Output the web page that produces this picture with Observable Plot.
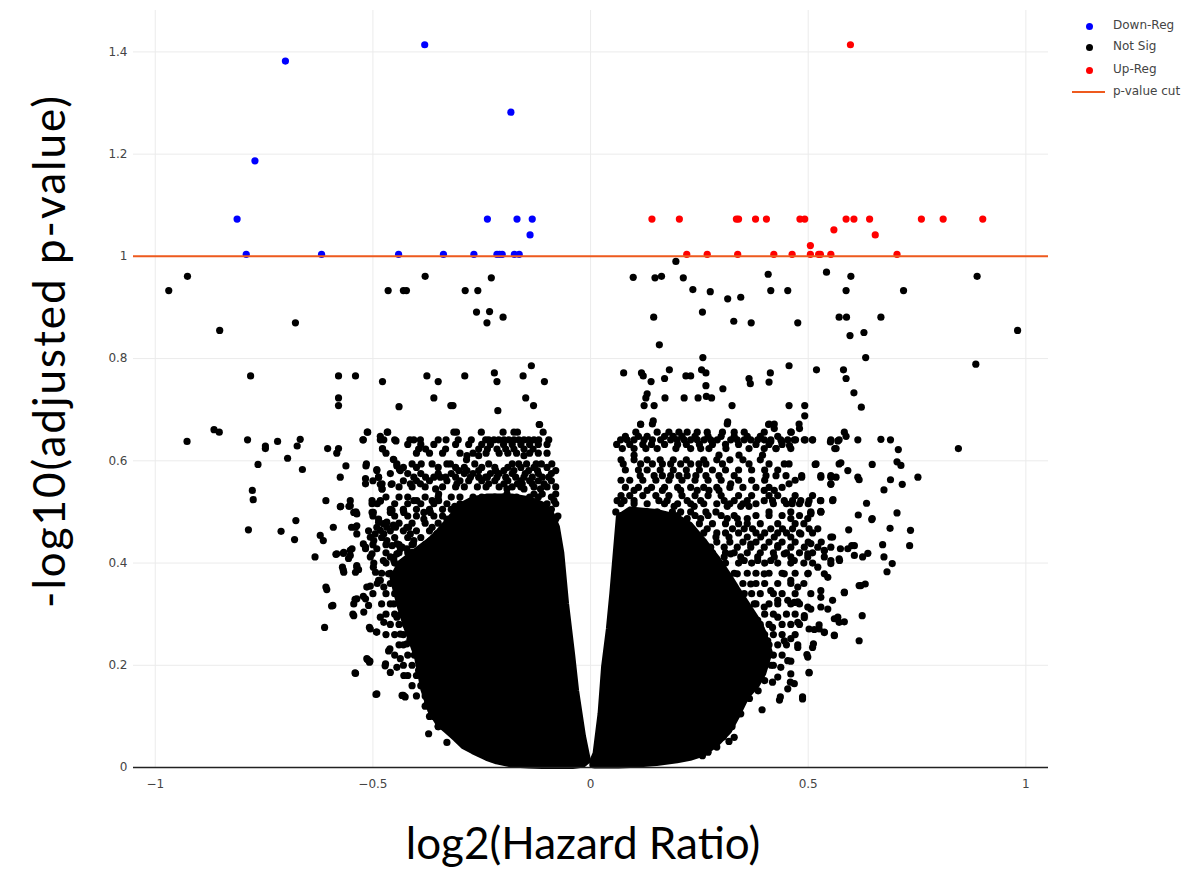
<!DOCTYPE html>
<html>
<head>
<meta charset="utf-8">
<script src="https://cdn.jsdelivr.net/npm/d3@7"></script>
<script src="https://cdn.jsdelivr.net/npm/@observablehq/plot@0.6"></script>
<style>
  body { margin: 0; background: #fff; }
  #wrap { position: relative; width: 1196px; height: 869px; background: #fff; overflow: hidden; }
  #chart { position: absolute; left: 0; top: 0; }
  .ytitle { position: absolute; left: 48px; top: 351px; transform: translate(-50%, -50%) rotate(-90deg);
            white-space: nowrap; font: 44px/1 Lato, "Open Sans", sans-serif; letter-spacing: 2px; color: #000; }
  .xtitle { position: absolute; left: 583px; top: 842px; transform: translate(-50%, -50%);
            white-space: nowrap; font: 44px/1 Lato, "Open Sans", sans-serif; color: #000; }
  .leg { position: absolute; font: 12px "DejaVu Sans", Verdana, sans-serif; color: #444; white-space: nowrap; }
  .legdot { position: absolute; width: 7px; height: 7px; border-radius: 50%; }
  .legline { position: absolute; height: 2px; width: 33px; }
</style>
</head>
<body>
<div id="wrap">
  <div id="chart"></div>
  <div class="ytitle">-log10(adjusted p-value)</div>
  <div class="xtitle">log2(Hazard Ratio)</div>
  <div id="legend"></div>
</div>
<script>
// ---------- data ----------
const xTicks = [-1, -0.5, 0, 0.5, 1];
const yTicks = [0, 0.2, 0.4, 0.6, 0.8, 1, 1.2, 1.4];
const pCut = 1;

const legendNames = ["Down-Reg", "Not Sig", "Up-Reg", "p-value cut"];
const legendColors = ["#0000ff", "#000000", "#ff0000", "#ee5a1e"];

// Down-regulated (blue)
const downX = [-0.701, -0.381, -0.183, -0.771, -0.812, -0.791, -0.618, -0.441, -0.338, -0.268, -0.215, -0.209, -0.203, -0.175, -0.164, -0.237, -0.169, -0.134, -0.139];
const downY = [1.382, 1.414, 1.282, 1.187, 1.073, 1.004, 1.004, 1.004, 1.004, 1.004, 1.004, 1.004, 1.004, 1.004, 1.004, 1.073, 1.073, 1.073, 1.042];

// Up-regulated (red)
const upX = [0.597, 0.141, 0.204, 0.335, 0.340, 0.379, 0.404, 0.481, 0.492, 0.587, 0.605, 0.641, 0.760, 0.810, 0.901,
             0.221, 0.268, 0.338, 0.421, 0.463, 0.505, 0.524, 0.528, 0.552, 0.704, 0.559, 0.654, 0.505];
const upY = [1.414, 1.073, 1.073, 1.073, 1.073, 1.073, 1.073, 1.073, 1.073, 1.073, 1.073, 1.073, 1.073, 1.073, 1.073,
             1.004, 1.004, 1.004, 1.004, 1.004, 1.004, 1.004, 1.004, 1.004, 1.004, 1.052, 1.042, 1.021];

// Dense (solid-looking) cores of the not-significant cloud: x, lower and upper edge
const leftCoreX  = [-0.455, -0.437, -0.422, -0.407, -0.399, -0.384, -0.368, -0.350, -0.330, -0.310, -0.292, -0.270, -0.238, -0.215, -0.180, -0.140, -0.110, -0.090, -0.075, -0.065, -0.054, -0.040, -0.031, -0.015, -0.004];
const leftCoreLo = [0.370, 0.310, 0.270, 0.235, 0.216, 0.151, 0.110, 0.085, 0.070, 0.055, 0.040, 0.030, 0.017, 0.010, 0.004, 0.002, 0.001, 0.001, 0.001, 0.001, 0.001, 0.001, 0.002, 0.004, 0.012];
const leftCoreHi = [0.370, 0.400, 0.410, 0.420, 0.425, 0.435, 0.445, 0.460, 0.480, 0.500, 0.515, 0.525, 0.530, 0.530, 0.530, 0.525, 0.515, 0.500, 0.470, 0.420, 0.320, 0.220, 0.150, 0.060, 0.014];

const rightCoreX  = [0.004, 0.0115, 0.023, 0.031, 0.042, 0.050, 0.058, 0.065, 0.092, 0.153, 0.200, 0.230, 0.260, 0.292, 0.320, 0.338, 0.361, 0.384, 0.399, 0.414];
const rightCoreLo = [0.003, 0.002, 0.002, 0.002, 0.002, 0.002, 0.002, 0.002, 0.003, 0.007, 0.012, 0.017, 0.025, 0.045, 0.070, 0.098, 0.138, 0.160, 0.183, 0.225];
const rightCoreHi = [0.012, 0.027, 0.105, 0.196, 0.270, 0.340, 0.420, 0.490, 0.505, 0.500, 0.490, 0.475, 0.445, 0.410, 0.375, 0.350, 0.320, 0.290, 0.265, 0.225];

// Scattered not-significant points [x, y]
const notSigScatter = [
  [-0.969,0.933],[-0.926,0.961],[-0.852,0.855],[-0.678,0.870],[-0.465,0.933],[-0.430,0.933],[-0.423,0.933],[-0.380,0.961],[-0.288,0.933],[-0.259,0.933],[-0.228,0.958],[-0.262,0.891],[-0.232,0.892],[-0.238,0.870],[-0.201,0.881],
  [-0.781,0.766],[-0.579,0.766],[-0.540,0.766],[-0.478,0.755],[-0.376,0.766],[-0.350,0.755],[-0.289,0.766],[-0.221,0.772],[-0.215,0.755],[-0.155,0.766],[-0.136,0.786],[-0.106,0.755],
  [-0.579,0.723],[-0.579,0.708],[-0.440,0.706],[-0.360,0.723],[-0.321,0.708],[-0.316,0.708],[-0.213,0.698],[-0.149,0.723],[-0.131,0.708],[-0.117,0.671],
  [-0.927,0.638],[-0.865,0.661],[-0.853,0.656],[-0.788,0.641],[-0.747,0.629],[-0.747,0.624],[-0.719,0.638],[-0.667,0.642],[-0.674,0.629],[-0.696,0.605],[-0.764,0.593],[-0.662,0.583],[-0.777,0.542],[-0.775,0.524],
  [-0.604,0.624],[-0.579,0.624],[-0.583,0.615],[-0.562,0.590],[-0.575,0.568],[-0.608,0.522],[-0.574,0.511],[-0.552,0.522],[-0.555,0.511],[-0.539,0.500],
  [-0.513,0.656],[-0.522,0.641],[-0.516,0.590],[-0.517,0.565],[-0.491,0.583],[-0.487,0.568],[-0.483,0.554],[-0.479,0.545],[-0.502,0.516],[-0.483,0.521],[-0.483,0.648],[-0.467,0.656],[-0.478,0.624],[-0.447,0.639],[-0.453,0.603],[-0.445,0.590],[-0.439,0.583],[-0.458,0.554],
  [-0.786,0.465],[-0.711,0.462],[-0.677,0.483],[-0.680,0.446],[-0.633,0.412],[-0.621,0.454],[-0.614,0.444],[-0.608,0.353],[-0.606,0.348],[-0.595,0.316],[-0.611,0.274],[-0.541,0.185],[-0.493,0.143],[-0.508,0.274],[-0.492,0.265],[-0.546,0.300],[-0.541,0.329],[-0.522,0.335],[-0.512,0.211],[-0.508,0.206],[-0.472,0.199],[-0.464,0.228],[-0.445,0.196],[-0.430,0.141],[-0.426,0.138],[-0.372,0.066],[-0.330,0.049],
  [-0.585,0.417],[-0.568,0.419],[-0.552,0.425],[-0.556,0.409],[-0.570,0.392],[-0.568,0.386],[-0.537,0.392],[-0.533,0.387],[-0.514,0.353],[-0.506,0.355],[-0.487,0.366],
  [-0.549,0.470],[-0.537,0.473],[-0.537,0.496],[-0.552,0.512],[-0.575,0.510],[-0.591,0.470],
  [-0.522,0.4375],[-0.506,0.4505],[-0.495,0.457],[-0.483,0.464],[-0.476,0.477],[-0.487,0.480],[-0.499,0.499],[-0.456,0.503],[-0.468,0.480],[-0.453,0.474],[-0.430,0.503],[-0.422,0.470],[-0.407,0.4375],[-0.445,0.4375],[-0.460,0.412],[-0.476,0.405],[-0.499,0.392],[-0.506,0.412],
  [-0.583,0.418],[-0.567,0.421],[-0.552,0.415],[-0.567,0.382],[-0.540,0.382],[-0.537,0.395],[-0.517,0.431],[-0.502,0.418],[-0.498,0.400],[-0.494,0.382],[-0.592,0.317],[-0.544,0.320],[-0.537,0.330],[-0.517,0.330],[-0.521,0.304],[-0.544,0.297],[-0.510,0.317],[-0.483,0.294],[-0.475,0.284],[-0.506,0.271],[-0.491,0.265],[-0.461,0.232],[-0.514,0.213],[-0.507,0.208],[-0.471,0.203],[-0.540,0.184],[-0.460,0.186],[-0.437,0.213],[-0.429,0.180],[-0.491,0.144],[-0.433,0.141],[-0.452,0.320],[-0.445,0.294],[-0.422,0.242],[-0.437,0.261],
  [-0.483,0.366],[-0.475,0.353],[-0.464,0.379],[-0.452,0.405],[-0.445,0.418],[-0.437,0.385],[-0.429,0.359],[-0.414,0.340],[-0.402,0.372],[-0.399,0.405],[-0.383,0.424],[-0.368,0.398],[-0.422,0.398],[-0.456,0.434],[-0.433,0.431],[-0.410,0.421],[-0.391,0.382],[-0.376,0.359],[-0.368,0.333],
  [0.196,0.990],[0.098,0.959],[0.148,0.958],[0.163,0.961],[0.213,0.958],[0.235,0.935],[0.275,0.931],[0.315,0.917],[0.345,0.920],[0.408,0.965],[0.414,0.933],[0.453,0.933],[0.542,0.969],[0.598,0.961],[0.587,0.933],[0.719,0.933],[0.888,0.961],[0.145,0.881],[0.257,0.891],[0.329,0.873],[0.369,0.870],[0.476,0.870],[0.571,0.881],[0.588,0.881],[0.667,0.881],[0.596,0.845],[0.628,0.851],[0.158,0.827],[0.981,0.855],[0.258,0.802],[0.632,0.802],[0.885,0.789],
  [0.076,0.772],[0.117,0.772],[0.121,0.766],[0.181,0.778],[0.170,0.761],[0.139,0.755],[0.219,0.766],[0.230,0.766],[0.255,0.778],[0.265,0.772],[0.265,0.747],[0.304,0.741],[0.364,0.761],[0.367,0.751],[0.413,0.772],[0.410,0.754],[0.456,0.786],[0.519,0.778],[0.581,0.778],[0.587,0.761],[0.605,0.733],[0.622,0.705],
  [0.130,0.731],[0.127,0.723],[0.123,0.708],[0.146,0.708],[0.171,0.723],[0.215,0.723],[0.247,0.723],[0.266,0.726],[0.278,0.723],[0.325,0.708],[0.456,0.708],[0.492,0.708],[0.492,0.688],[0.144,0.678],[0.115,0.671],[0.315,0.676],[0.409,0.671],[0.422,0.663],[0.480,0.663],[0.461,0.656],[0.583,0.656],[0.587,0.648],[0.614,0.641],[0.667,0.642],[0.689,0.641],[0.551,0.637],[0.568,0.639],[0.561,0.624],[0.707,0.622],[0.845,0.624],[0.493,0.641],[0.510,0.641],[0.457,0.630],[0.426,0.624],[0.471,0.641],[0.439,0.638],[0.414,0.638],
  [0.704,0.598],[0.713,0.591],[0.647,0.593],[0.575,0.596],[0.591,0.581],[0.516,0.593],[0.752,0.568],[0.689,0.563],[0.716,0.554],[0.674,0.543],[0.614,0.568],[0.617,0.563],[0.529,0.568],[0.552,0.568],[0.564,0.568],[0.552,0.554],[0.485,0.568],[0.634,0.517],[0.704,0.498],[0.557,0.524],[0.528,0.522],[0.529,0.501],[0.615,0.494],[0.647,0.487],[0.500,0.516],[0.480,0.516],[0.463,0.516],[0.506,0.498],
  [0.646,0.485],[0.593,0.465],[0.688,0.468],[0.735,0.464],[0.671,0.436],[0.733,0.434],[0.674,0.412],[0.693,0.399],[0.681,0.383],[0.637,0.419],[0.625,0.412],[0.600,0.434],[0.606,0.415],[0.574,0.428],[0.572,0.405],[0.631,0.359],[0.621,0.356],[0.583,0.342],[0.624,0.297],[0.617,0.248],[0.583,0.285],[0.568,0.294],[0.556,0.327],[0.560,0.259],[0.537,0.264],[0.502,0.185],[0.487,0.134],[0.434,0.132],[0.394,0.113],[0.330,0.059],[0.318,0.051],[0.257,0.023],[0.512,0.242],[0.497,0.221],[0.476,0.240],[0.460,0.208],[0.514,0.270],[0.525,0.279],[0.491,0.293],[0.506,0.310],[0.459,0.167],[0.453,0.154],[0.418,0.167],[0.430,0.177],[0.476,0.324],[0.506,0.340],[0.529,0.346],[0.545,0.372],[0.552,0.399],[0.537,0.425],[0.506,0.438],[0.483,0.457],[0.529,0.500],[0.506,0.496],[0.552,0.451],
  [0.617,0.356],[0.583,0.343],[0.560,0.258],[0.537,0.265],[0.510,0.235],[0.502,0.186],[0.487,0.138],[0.436,0.138],[0.468,0.164],[0.476,0.235],[0.499,0.216],[0.560,0.291],[0.571,0.284],[0.545,0.310],[0.529,0.333],[0.491,0.297],[0.476,0.284],[0.460,0.252],[0.445,0.248],[0.453,0.209],[0.437,0.196],[0.460,0.183],[0.502,0.271],[0.525,0.271],[0.529,0.314],[0.499,0.314],[0.468,0.323],[0.453,0.327],[0.430,0.294],[0.418,0.274],[0.537,0.379],[0.522,0.392],[0.499,0.379],[0.476,0.353],[0.460,0.366],[0.445,0.379],[0.552,0.405],[0.571,0.408],[0.591,0.428],[0.606,0.434],[0.537,0.424],[0.499,0.418],[0.468,0.405],[0.445,0.418],[0.430,0.434],[0.414,0.405],[0.399,0.379],[0.414,0.346],[0.430,0.327],[0.399,0.314],[0.391,0.274],[0.407,0.248],
  [0.368,0.437],[0.353,0.405],[0.337,0.379],[0.368,0.359],[0.384,0.405],[0.322,0.418],[0.299,0.398],[0.307,0.366],[0.353,0.340],[0.376,0.320],[0.360,0.294],[0.384,0.288],[0.268,0.424],[0.253,0.392],
  [-0.350,0.080],[-0.345,0.095],[-0.365,0.105],[-0.375,0.125],[-0.385,0.160],[-0.395,0.190],[-0.405,0.220],[-0.415,0.250],[-0.425,0.280],[-0.435,0.300],
  [0.270,0.030],[0.290,0.040],[0.305,0.060],[0.325,0.080],[0.345,0.105],[0.365,0.135],[0.385,0.150],[0.400,0.170],[0.415,0.200]
];

// Rows of not-significant points in the crowded band (one y level, several x values)
const leftBandY = [0.671, 0.656, 0.641, 0.632, 0.623, 0.615, 0.610, 0.602, 0.594, 0.587, 0.581, 0.575, 0.568, 0.561, 0.555, 0.549, 0.545, 0.535, 0.529, 0.522, 0.516, 0.511, 0.505, 0.499, 0.492, 0.486, 0.478, 0.470, 0.463, 0.457, 0.450, 0.444, 0.436, 0.428, 0.420, 0.411,
                   0.400, 0.380, 0.360, 0.340, 0.320, 0.300, 0.280, 0.260, 0.240, 0.220, 0.200, 0.180, 0.160, 0.140, 0.120, 0.100, 0.080];
const leftBandX = [
  [-0.118],
  [-0.512,-0.466,-0.314,-0.308,-0.251,-0.201,-0.176,-0.168,-0.109],
  [-0.523,-0.483,-0.475,-0.450,-0.415,-0.406,-0.391,-0.350,-0.332,-0.304,-0.274,-0.241,-0.234,-0.222,-0.211,-0.199,-0.188,-0.176,-0.165,-0.153,-0.142,-0.130,-0.119,-0.096],
  [-0.42,-0.39,-0.36,-0.31,-0.28,-0.25,-0.23,-0.20,-0.18,-0.16,-0.14,-0.12,-0.10],
  [-0.478,-0.395,-0.379,-0.333,-0.257,-0.237,-0.215,-0.195,-0.176,-0.153,-0.132],
  [-0.47,-0.40,-0.37,-0.34,-0.30,-0.27,-0.24,-0.21,-0.19,-0.17,-0.14,-0.12,-0.10],
  [-0.284,-0.257,-0.153],
  [-0.452,-0.285],
  [-0.515,-0.445,-0.410,-0.389,-0.364,-0.330,-0.322,-0.266,-0.234,-0.180,-0.165,-0.147,-0.125,-0.113,-0.089],
  [-0.43,-0.40,-0.35,-0.31,-0.29,-0.25,-0.22,-0.19,-0.16,-0.13,-0.10],
  [-0.491,-0.437,-0.303,-0.284,-0.257,-0.218,-0.199,-0.176,-0.142,-0.122,-0.080],
  [-0.46,-0.42,-0.39,-0.35,-0.32,-0.29,-0.27,-0.23,-0.21,-0.18,-0.15,-0.12,-0.09],
  [-0.487,-0.406,-0.379,-0.360,-0.345,-0.333,-0.310,-0.276,-0.257,-0.241,-0.237,-0.215,-0.195,-0.172,-0.153,-0.134,-0.111,-0.096],
  [-0.50,-0.43,-0.40,-0.37,-0.33,-0.30,-0.28,-0.25,-0.22,-0.19,-0.16,-0.14,-0.12,-0.09],
  [-0.517,-0.479,-0.456,-0.414,-0.391,-0.307,-0.234,-0.199,-0.168,-0.157,-0.134,-0.107],
  [-0.44,-0.41,-0.38,-0.34,-0.31,-0.29,-0.26,-0.24,-0.21,-0.18,-0.16,-0.13,-0.10,-0.08],
  [-0.479,-0.356,-0.192,-0.153,-0.115],
  [-0.349,-0.192,-0.130,-0.111,-0.080],
  [-0.47,-0.44,-0.42,-0.38,-0.35,-0.32,-0.30,-0.27,-0.25,-0.22,-0.20,-0.17,-0.14,-0.12,-0.09],
  [-0.502,-0.483,-0.406,-0.399,-0.364,-0.349,-0.272,-0.241,-0.234,-0.211,-0.176,-0.161,-0.145,-0.084],
  [-0.49,-0.45,-0.42,-0.39,-0.36,-0.33,-0.30,-0.28,-0.26,-0.23,-0.20,-0.18,-0.15,-0.12,-0.10,-0.08],
  [-0.312,-0.257,-0.234,-0.215,-0.153,-0.138],
  [-0.46,-0.43,-0.40,-0.37,-0.34,-0.32,-0.29,-0.27,-0.24,-0.21,-0.18,-0.15,-0.12,-0.09],
  [-0.544,-0.502,-0.460,-0.429,-0.383,-0.368,-0.199,-0.161,-0.130],
  [-0.50,-0.45,-0.42,-0.40,-0.36,-0.34,-0.31,-0.28,-0.13,-0.10,-0.075],
  [-0.487,-0.383,-0.330,-0.299,-0.257,-0.237,-0.222,-0.192,-0.153,-0.115,-0.092,-0.080],
  [-0.47,-0.44,-0.41,-0.38,-0.35,-0.32,-0.30],
  [-0.540,-0.491,-0.468,-0.448,-0.418,-0.364,-0.326,-0.287,-0.276,-0.245,-0.215,-0.184,-0.165,-0.142,-0.119,-0.092],
  [-0.51,-0.46,-0.43,-0.40,-0.37,-0.34],
  [-0.537,-0.475,-0.414,-0.353,-0.322,-0.299,-0.261],
  [-0.48,-0.45,-0.42,-0.39,-0.36],
  [-0.498,-0.468,-0.406,-0.368,-0.322,-0.284],
  [-0.50,-0.47,-0.44,-0.41,-0.38],
  [-0.548,-0.517,-0.491,-0.437,-0.422,-0.376,-0.345,-0.307],
  [-0.47,-0.44,-0.42,-0.39],
  [-0.452,-0.414,-0.391,-0.353,-0.322],
  [-0.47,-0.45,-0.43],
  [-0.48,-0.46,-0.44],
  [-0.49,-0.46,-0.44],
  [-0.50,-0.47,-0.45],
  [-0.48,-0.46],
  [-0.47,-0.45],
  [-0.46,-0.44],
  [-0.47,-0.45,-0.43],
  [-0.44,-0.43],
  [-0.45,-0.42],
  [-0.43,-0.41],
  [-0.42,-0.40],
  [-0.41,-0.39],
  [-0.40,-0.38],
  [-0.38],
  [-0.37,-0.36],
  [-0.35]
];
const rightBandY = [0.672, 0.656, 0.648, 0.641, 0.632, 0.624, 0.611, 0.602, 0.594, 0.582, 0.571, 0.562, 0.555, 0.548, 0.542, 0.532, 0.522, 0.516, 0.511, 0.500, 0.493, 0.487, 0.477, 0.467, 0.459, 0.451, 0.441, 0.431, 0.420, 0.412,
                    0.400, 0.380, 0.360, 0.340, 0.320, 0.300, 0.280, 0.260, 0.240, 0.220, 0.200];
const rightBandX = [
  [0.115,0.142,0.314,0.410,0.422,0.479],
  [0.104,0.153,0.180,0.203,0.222,0.245,0.268,0.303,0.330,0.353,0.399,0.460],
  [0.08,0.11,0.13,0.17,0.19,0.21,0.24,0.27,0.30,0.33,0.36,0.39,0.43],
  [0.069,0.084,0.100,0.123,0.142,0.161,0.184,0.199,0.215,0.230,0.245,0.261,0.276,0.291,0.322,0.337,0.353,0.368,0.384,0.399,0.414,0.437,0.453,0.468,0.491,0.510,0.552,0.571],
  [0.06,0.09,0.12,0.14,0.17,0.20,0.22,0.25,0.28,0.31,0.34,0.38,0.41,0.44],
  [0.073,0.100,0.127,0.153,0.196,0.230,0.253,0.272,0.311,0.364,0.399,0.426,0.460,0.564],
  [0.100,0.295,0.341,0.395],
  [0.07,0.10,0.13,0.16,0.19,0.22,0.26,0.29,0.32,0.35,0.39],
  [0.075,0.115,0.142,0.165,0.184,0.207,0.230,0.249,0.265,0.303,0.364,0.410,0.445,0.456,0.518,0.571],
  [0.08,0.11,0.13,0.16,0.19,0.22,0.25,0.28,0.31,0.34,0.37,0.40,0.43],
  [0.114,0.146,0.165,0.184,0.203,0.222,0.242,0.265,0.295,0.330,0.403,0.426,0.449,0.485,0.529,0.552],
  [0.07,0.09,0.12,0.15,0.18,0.21,0.24,0.27,0.30,0.34,0.37,0.40,0.47],
  [0.322,0.456,0.552],
  [0.08,0.11,0.14,0.17,0.20,0.23,0.26,0.29,0.32,0.35,0.38,0.41,0.44],
  [0.100,0.130,0.165,0.207,0.245,0.272,0.295,0.399,0.422],
  [0.07,0.09,0.12,0.15,0.18,0.21,0.24,0.27,0.30,0.34,0.37,0.41,0.43,0.47,0.51],
  [0.061,0.077,0.100,0.157,0.176,0.222,0.253,0.307,0.330,0.360,0.399,0.418,0.445,0.464,0.483,0.502,0.529,0.556],
  [0.07,0.10,0.13,0.17,0.20,0.23,0.26,0.29,0.32,0.35,0.38,0.42,0.45],
  [0.192,0.238,0.314,0.345,0.364],
  [0.058,0.111,0.130,0.153,0.188,0.207,0.230,0.265,0.288,0.410,0.460,0.506,0.529],
  [0.07,0.10,0.14,0.17,0.20,0.24,0.27,0.30,0.33,0.38,0.41,0.44,0.48],
  [0.127,0.176,0.222,0.253,0.314,0.337,0.360,0.460,0.499],
  [0.09,0.11,0.16,0.19,0.21,0.25,0.28,0.31,0.34,0.36,0.39,0.43,0.47,0.49],
  [0.073,0.096,0.123,0.146,0.176,0.199,0.230,0.268,0.326,0.353,0.372,0.414,0.441,0.464,0.502,0.522],
  [0.10,0.17,0.26,0.29,0.31,0.34,0.38,0.40,0.43,0.45,0.48,0.51],
  [0.153,0.207,0.245,0.288,0.318,0.360,0.391,0.422,0.460,0.556],
  [0.20,0.23,0.26,0.29,0.32,0.35,0.38,0.41,0.44,0.47,0.50,0.53],
  [0.169,0.207,0.245,0.276,0.307,0.337,0.368,0.399,0.430,0.460,0.491,0.522,0.552],
  [0.25,0.28,0.31,0.33,0.36,0.39,0.42,0.45,0.48,0.51],
  [0.192,0.230,0.268,0.307,0.345,0.384,0.422,0.460,0.499,0.537],
  [0.28,0.31,0.34,0.37,0.40,0.43,0.46,0.49,0.51],
  [0.30,0.33,0.36,0.38,0.41,0.44,0.47,0.50],
  [0.32,0.35,0.38,0.40,0.43,0.46,0.49],
  [0.34,0.37,0.39,0.42,0.44,0.47],
  [0.35,0.38,0.41,0.43,0.46,0.48],
  [0.37,0.40,0.42,0.45,0.47],
  [0.39,0.41,0.44,0.46,0.48],
  [0.40,0.42,0.44,0.47],
  [0.41,0.43,0.45],
  [0.40,0.42,0.44],
  [0.40,0.42]
];

// ---------- build tables ----------
const down = downX.map((x, i) => ({x, y: downY[i]}));
const up = upX.map((x, i) => ({x, y: upY[i]}));
const notSig = notSigScatter.map(([x, y]) => ({x, y}));
leftBandY.forEach((y, i) => leftBandX[i].forEach(x => notSig.push({x, y})));
rightBandY.forEach((y, i) => rightBandX[i].forEach(x => notSig.push({x, y})));
const leftCore = leftCoreX.map((x, i) => ({x, lo: leftCoreLo[i], hi: leftCoreHi[i]}));
const rightCore = rightCoreX.map((x, i) => ({x, lo: rightCoreLo[i], hi: rightCoreHi[i]}));

const fmt = d3.format("~g");
const R = 3.6;

const chart = Plot.plot({
  width: 1196,
  height: 869,
  marginLeft: 133,
  marginRight: 148,
  marginTop: 10,
  marginBottom: 102,
  style: {fontFamily: "'DejaVu Sans', Verdana, sans-serif", fontSize: "12px", background: "#fff"},
  x: {domain: [-1.05, 1.052]},
  y: {domain: [0, 1.481]},
  marks: [
    Plot.gridX(xTicks, {stroke: "#ebebeb", strokeOpacity: 1, strokeWidth: 1}),
    Plot.gridY(yTicks, {stroke: "#ebebeb", strokeOpacity: 1, strokeWidth: 1}),
    Plot.axisX(xTicks, {tickSize: 0, tickPadding: 12, tickFormat: fmt, label: null, fill: "#444", fontSize: 12}),
    Plot.axisY(yTicks, {tickSize: 0, tickPadding: 6, tickFormat: fmt, label: null, fill: "#444", fontSize: 12}),
    Plot.dot(down, {x: "x", y: "y", r: R, fill: legendColors[0], stroke: "none"}),
    Plot.areaY(leftCore, {x: "x", y1: "lo", y2: "hi", fill: "#000", stroke: "#000", strokeWidth: 5, strokeLinejoin: "round", curve: "linear"}),
    Plot.areaY(rightCore, {x: "x", y1: "lo", y2: "hi", fill: "#000", stroke: "#000", strokeWidth: 5, strokeLinejoin: "round", curve: "linear"}),
    Plot.dot(notSig, {x: "x", y: "y", r: R, fill: legendColors[1], stroke: "none"}),
    Plot.dot(up, {x: "x", y: "y", r: R, fill: legendColors[2], stroke: "none"}),
    Plot.ruleY([pCut], {stroke: legendColors[3], strokeWidth: 2}),
    Plot.ruleY([0], {stroke: "#222", strokeWidth: 1.5})
  ]
});
document.getElementById("chart").appendChild(chart);

// ---------- legend ----------
const leg = document.getElementById("legend");
const legTops = [26, 47, 70, 92];
legendNames.forEach((name, i) => {
  if (i < 3) {
    const d = document.createElement("div");
    d.className = "legdot";
    d.style.left = (1089 - 3.5) + "px";
    d.style.top = (legTops[i] - 3.5) + "px";
    d.style.background = legendColors[i];
    leg.appendChild(d);
  } else {
    const l = document.createElement("div");
    l.className = "legline";
    l.style.left = "1072px";
    l.style.top = (legTops[i] - 1) + "px";
    l.style.background = legendColors[i];
    leg.appendChild(l);
  }
  const t = document.createElement("div");
  t.className = "leg";
  t.textContent = name;
  t.style.left = "1113px";
  t.style.top = (legTops[i] - 8) + "px";
  leg.appendChild(t);
});
</script>
</body>
</html>
